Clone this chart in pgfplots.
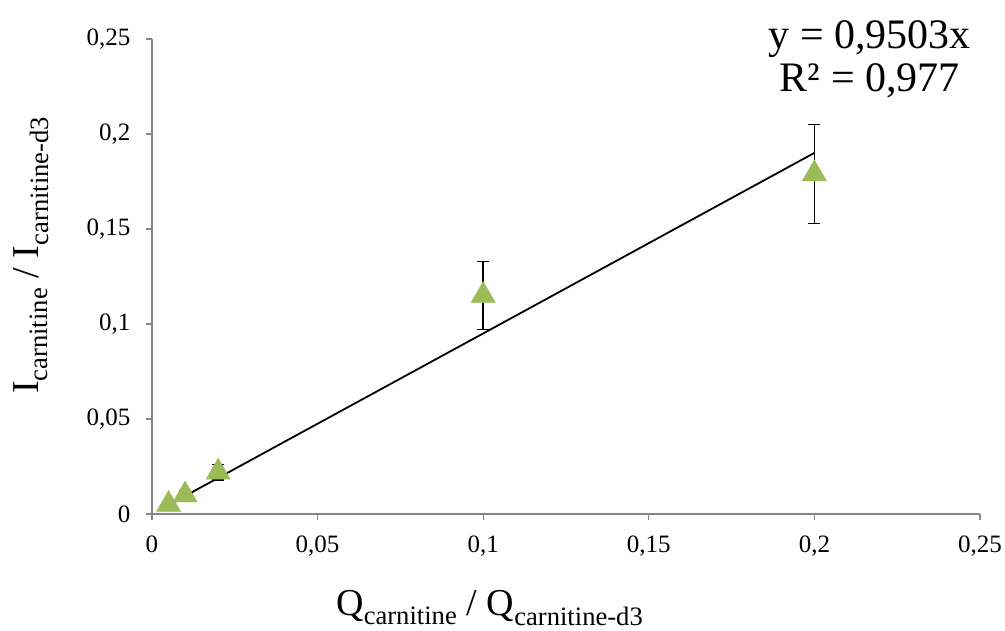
\documentclass[border=0pt]{standalone}
\usepackage{pgfplots}
\pgfplotsset{compat=1.18}
\usepackage{fontspec}
\setmainfont{Liberation Serif}
\definecolor{olive}{HTML}{9BBB59}
\definecolor{axisgray}{HTML}{868686}

\begin{document}
\begin{tikzpicture}
% picture frame in reference pixels (1px = 1pt), axis box lower left at origin
\path[use as bounding box] (-152pt,-116pt) rectangle (853pt,514pt);
\begin{axis}[
    at={(0pt,0pt)}, anchor=south west,
    scale only axis,
    width=828pt, height=475pt,
    xmin=0, xmax=0.25,
    ymin=0, ymax=0.25,
    xtick={0,0.05,...,0.25},
    ytick={0,0.05,...,0.25},
    axis lines=left,
    axis line style={-, draw=axisgray, line width=1.3pt},
    tick style={draw=axisgray, line width=1.3pt},
    tick align=outside,
    major tick length=6pt,
    /pgf/number format/assume math mode=true,
    /pgf/number format/use comma,
    /pgf/number format/fixed,
    ticklabel style={font=\fontsize{25}{29}\selectfont},
    yticklabel style={xshift=-12pt},
    xticklabel style={yshift=-12pt},
    xlabel={Q\textsubscript{carnitine} / Q\textsubscript{carnitine-d3}},
    ylabel={I\textsubscript{carnitine} / I\textsubscript{carnitine-d3}},
    label style={font=\fontsize{38}{46}\selectfont},
    xlabel style={at={(axis description cs:0.408,0)}, anchor=north, yshift=-73pt},
    ylabel style={at={(axis description cs:0,0.545)}, anchor=south, yshift=100pt},
    clip=false,
]
\addplot[only marks, mark=triangle*, mark size=14pt,
    mark options={fill=olive, draw=olive},
    error bars/.cd, y dir=both, y explicit,
    error bar style={black, line width=1.5pt},
    error mark options={rotate=90, black, line width=1.5pt, mark size=6pt}]
    table[x=x, y=y, y error=e] {
x      y       e
0.005  0.005   0.002
0.01   0.010   0.002
0.02   0.022   0.004
0.1    0.115   0.018
0.2    0.179   0.026
};
\addplot[black, line width=1.8pt] coordinates {(0.005,0.0047515) (0.2,0.19006)};
\node[align=center, font=\fontsize{42}{43}\selectfont, inner sep=0pt]
    at (rel axis cs:0.867,0.957) {y = 0,9503x\\R² = 0,977};
\end{axis}
\end{tikzpicture}
\end{document}
